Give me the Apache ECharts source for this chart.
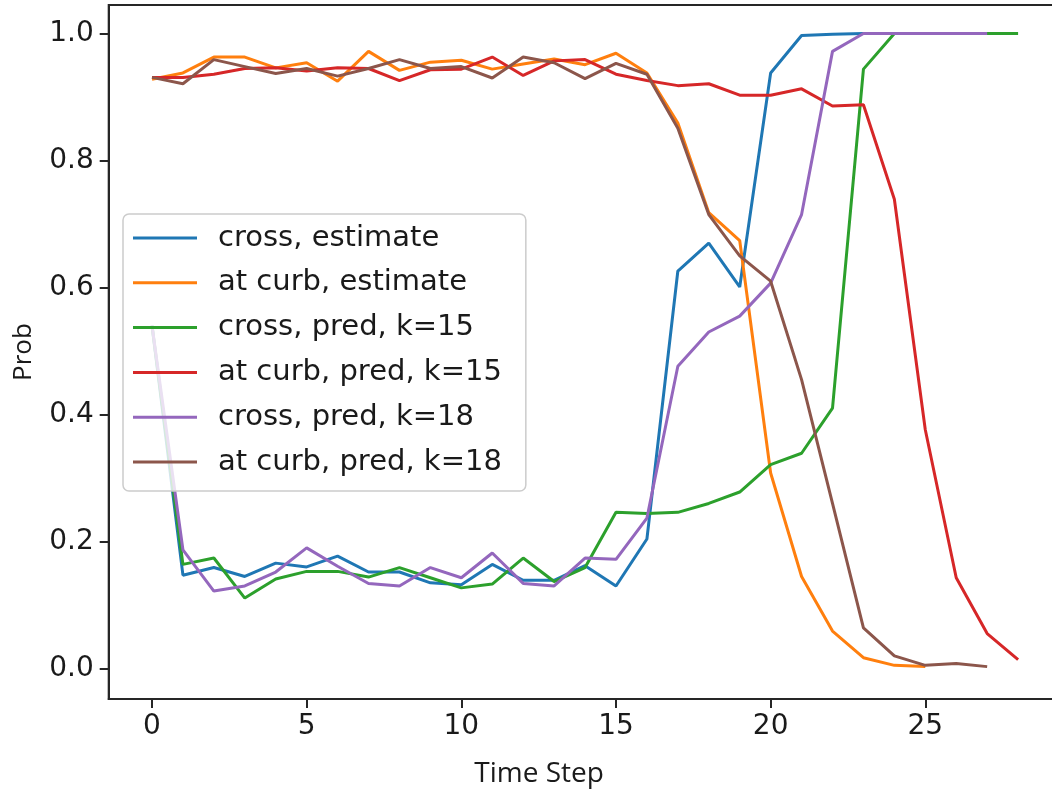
<!DOCTYPE html>
<html>
<head>
<meta charset="utf-8">
<script src="https://cdn.jsdelivr.net/npm/echarts@6/dist/echarts.min.js"></script>
<style>
  html, body { margin: 0; padding: 0; background: #ffffff; }
  #chart { width: 1052px; height: 789px; }
</style>
</head>
<body>
<div id="chart"></div>
<script>
// Time steps along the x axis
const timeSteps = [0, 1, 2, 3, 4, 5, 6, 7, 8, 9, 10, 11, 12, 13, 14, 15, 16, 17, 18, 19, 20, 21, 22, 23, 24, 25, 26, 27, 28];

// Probability traces (one value per time step; shorter runs stop early)
const crossEstimate = [0.54, 0.147, 0.159, 0.145, 0.166, 0.160, 0.177, 0.152, 0.152, 0.135, 0.132, 0.164, 0.139, 0.139, 0.162, 0.130, 0.204, 0.626, 0.670, 0.601, 0.938, 0.997, 0.999, 1.0, 1.0, 1.0];
const curbEstimate = [0.928, 0.938, 0.963, 0.963, 0.946, 0.954, 0.925, 0.972, 0.942, 0.955, 0.958, 0.944, 0.952, 0.960, 0.951, 0.969, 0.938, 0.859, 0.718, 0.674, 0.308, 0.145, 0.059, 0.017, 0.005, 0.003];
const crossPredK15 = [0.54, 0.164, 0.174, 0.111, 0.141, 0.153, 0.153, 0.144, 0.159, 0.143, 0.127, 0.133, 0.174, 0.137, 0.159, 0.246, 0.244, 0.246, 0.260, 0.278, 0.321, 0.339, 0.410, 0.944, 1.0, 1.0, 1.0, 1.0, 1.0];
const curbPredK15 = [0.931, 0.931, 0.936, 0.945, 0.946, 0.941, 0.946, 0.945, 0.926, 0.943, 0.944, 0.963, 0.934, 0.957, 0.959, 0.936, 0.926, 0.918, 0.921, 0.903, 0.903, 0.913, 0.886, 0.888, 0.739, 0.376, 0.143, 0.055, 0.014];
const crossPredK18 = [0.54, 0.187, 0.122, 0.130, 0.152, 0.190, 0.161, 0.134, 0.130, 0.159, 0.143, 0.182, 0.134, 0.130, 0.174, 0.172, 0.237, 0.476, 0.530, 0.555, 0.607, 0.715, 0.972, 1.0, 1.0, 1.0, 1.0, 1.0];
const curbPredK18 = [0.931, 0.921, 0.959, 0.948, 0.937, 0.945, 0.933, 0.945, 0.959, 0.945, 0.948, 0.930, 0.963, 0.954, 0.929, 0.953, 0.936, 0.851, 0.715, 0.650, 0.610, 0.455, 0.260, 0.064, 0.020, 0.005, 0.008, 0.003];

const seriesNames = ['cross, estimate', 'at curb, estimate', 'cross, pred, k=15', 'at curb, pred, k=15', 'cross, pred, k=18', 'at curb, pred, k=18'];
const seriesValues = [crossEstimate, curbEstimate, crossPredK15, curbPredK15, crossPredK18, curbPredK18];
const seriesColors = ['#1f77b4', '#ff7f0e', '#2ca02c', '#d62728', '#9467bd', '#8c564b'];

// Tick positions
const xTicks = [0, 5, 10, 15, 20, 25];
const yTicks = [0.0, 0.2, 0.4, 0.6, 0.8, 1.0];

const axisColor = '#262626';
const textColor = '#1a1a1a';

function toPairs(values) {
  return values.map((v, i) => [timeSteps[i], v]);
}

const chart = echarts.init(document.getElementById('chart'), null, { renderer: 'canvas' });

chart.setOption({
  animation: false,
  backgroundColor: '#ffffff',
  grid: {
    left: 108.7,
    right: -9.4,
    top: 5,
    bottom: 90,
    show: true,
    borderColor: axisColor,
    borderWidth: 2,
    backgroundColor: 'transparent',
    containLabel: false,
    outerBoundsMode: 'none'
  },
  legend: {
    orient: 'vertical',
    left: 123,
    top: 214,
    backgroundColor: 'rgba(255,255,255,0.8)',
    borderColor: '#cccccc',
    borderWidth: 1.5,
    borderRadius: 6,
    padding: [9, 24, 14, 10],
    itemGap: 14.8,
    itemWidth: 64,
    itemHeight: 3,
    icon: 'rect',
    selectedMode: false,
    textStyle: {
      fontFamily: 'DejaVu Sans',
      fontSize: 29,
      color: textColor,
      lineHeight: 30,
      padding: [0, 0, 0, 16]
    },
    data: seriesNames
  },
  xAxis: {
    type: 'value',
    min: -1.4,
    max: 29.4,
    name: 'Time Step',
    nameLocation: 'middle',
    nameGap: 61,
    nameTextStyle: {
      fontFamily: 'Open Sans',
      fontSize: 28,
      color: textColor,
      padding: [0, 92, 0, 0]
    },
    axisLine: { show: true, onZero: false, lineStyle: { color: axisColor, width: 2 } },
    axisTick: { show: true, customValues: xTicks, length: 9, lineStyle: { color: axisColor, width: 2 } },
    axisLabel: {
      customValues: xTicks,
      margin: 14,
      fontFamily: 'DejaVu Sans',
      fontSize: 28,
      color: textColor,
      formatter: (v) => String(v)
    },
    splitLine: { show: false }
  },
  yAxis: {
    type: 'value',
    min: -0.048,
    max: 1.045,
    name: 'Prob',
    nameLocation: 'middle',
    nameGap: 72,
    nameTextStyle: {
      fontFamily: 'Open Sans',
      fontSize: 26,
      color: textColor
    },
    axisLine: { show: true, onZero: false, lineStyle: { color: axisColor, width: 2 } },
    axisTick: { show: true, customValues: yTicks, length: 9, lineStyle: { color: axisColor, width: 2 } },
    axisLabel: {
      customValues: yTicks,
      margin: 15,
      fontFamily: 'DejaVu Sans',
      fontSize: 28,
      color: textColor,
      formatter: (v) => Number(v).toFixed(1)
    },
    splitLine: { show: false }
  },
  series: seriesNames.map((name, i) => ({
    name: name,
    type: 'line',
    data: toPairs(seriesValues[i]),
    showSymbol: false,
    symbol: 'none',
    color: seriesColors[i],
    lineStyle: { color: seriesColors[i], width: 3 },
    emphasis: { disabled: true },
    clip: true
  }))
});
</script>
</body>
</html>
